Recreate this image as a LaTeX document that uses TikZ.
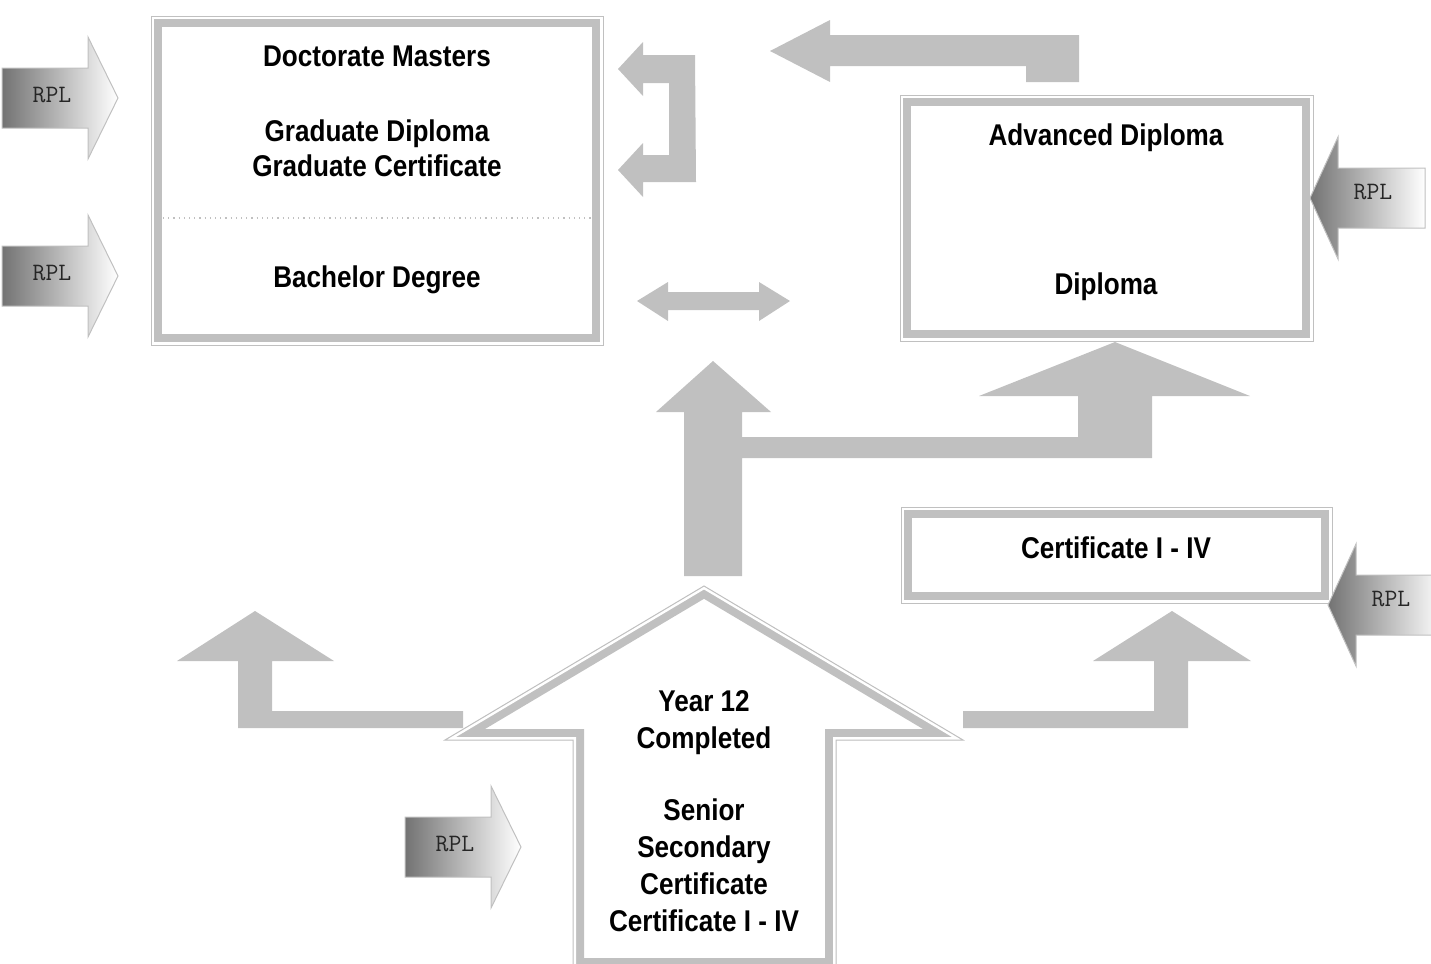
\documentclass[tikz,border=0pt]{standalone}
\usepackage{fontspec}
\newfontfamily\qualfont{Liberation Sans}[FakeStretch=0.87]
\usetikzlibrary{calc}

\definecolor{silver}{HTML}{C0C0C0}

\tikzset{
  arrowfill/.style={fill=silver, draw=none},
  rplarrow/.style={left color=black!55, right color=white, draw=silver, line width=0.5pt},
  rpltext/.style={font=\ttfamily\fontsize{12.5}{14}\selectfont, text=black!85, inner sep=0pt},
  quallabel/.style={font=\qualfont\bfseries\fontsize{15}{17.5}\selectfont, align=center, anchor=base, inner sep=0pt},
  yearlabel/.style={quallabel, font=\qualfont\bfseries\fontsize{15}{18.5}\selectfont},
}

% thin outer line, small gap, thick inner band
\newcommand{\dblframe}[1]{%
  \begin{scope}
    \clip #1;
    \draw[line width=11pt, silver] #1;
    \draw[line width=3pt, white] #1;
  \end{scope}
  \draw[line width=0.5pt, silver] #1;
}

% RPL arrow pointing right, #2 = centre of the tail
\newcommand{\rplright}[2]{%
  \draw[rplarrow] (#2) ++(0,-30) -- ++(86,0) -- ++(0,-31) -- ++(30,61)
    -- ++(-30,61) -- ++(0,-31) -- ++(-86,0) -- cycle;
  \node[rpltext] (#1) at ($(#2)+(50,-3)$) {RPL};
}

% RPL arrow pointing left, #2 = tip
\newcommand{\rplleft}[2]{%
  \draw[rplarrow] (#2) -- ++(28,-61) -- ++(0,31) -- ++(87,0) -- ++(0,60)
    -- ++(-87,0) -- ++(0,31) -- cycle;
  \node[rpltext] (#1) at ($(#2)+(63,-6)$) {RPL};
}

\begin{document}
\begin{tikzpicture}[x=0.5pt, y=-0.5pt]
  \useasboundingbox (0,0) rectangle (1431,964);

  % Higher education box (base anchor = last line)
  \dblframe{(151,16) rectangle (603,345)}
  \draw[silver, line width=0.6pt, dotted] (163,218) -- (592,218);
  \node[quallabel] (grad) at (377,176)
    {Doctorate Masters\\[20pt]Graduate Diploma\\Graduate Certificate};
  \node[quallabel] (bach) at (377,287) {Bachelor Degree};

  % Diploma box
  \dblframe{(900,95) rectangle (1313,341)}
  \node[quallabel] (advdip) at (1106,145) {Advanced Diploma};
  \node[quallabel] (dip) at (1106,294) {Diploma};

  % Certificate box
  \dblframe{(901,507) rectangle (1332,603)}
  \node[quallabel] (cert) at (1116,558) {Certificate I - IV};

  % Year 12 arrow
  \dblframe{(704,586) -- (963,740) -- (836,740) -- (836,969) -- (573,969) -- (573,740) -- (445,740) -- cycle}
  \node[yearlabel] (year) at (704,748) {Year 12\\Completed};
  \node[yearlabel] (senior) at (704,931)
    {Senior\\Secondary\\Certificate\\Certificate I - IV};

  % Grey pathway arrows
  \fill[arrowfill] (770,51) -- (830,20) -- (830,35) -- (1079,35) -- (1079,82)
    -- (1026,82) -- (1026,66) -- (830,66) -- (830,82) -- cycle;
  \fill[arrowfill] (618,69) -- (643,42) -- (643,55) -- (695,55) -- (696,182)
    -- (643,182) -- (643,197) -- (618,170) -- (643,143) -- (643,155)
    -- (669,155) -- (669,83) -- (643,83) -- (643,96) -- cycle;
  \fill[arrowfill] (637,301) -- (668,282) -- (668,292) -- (759,292) -- (759,282)
    -- (790,301) -- (759,321) -- (759,310) -- (668,310) -- (668,321) -- cycle;
  \fill[arrowfill] (713,361) -- (771,412) -- (742,412) -- (742,437) -- (1078,437)
    -- (1078,396) -- (979,396) -- (1115,342) -- (1250,396) -- (1152,396)
    -- (1152,458) -- (742,458) -- (742,576) -- (684,576) -- (684,412)
    -- (656,412) -- cycle;
  \fill[arrowfill] (255,611) -- (334,661) -- (272,661) -- (272,711) -- (463,711)
    -- (463,728) -- (238,728) -- (238,661) -- (177,661) -- cycle;
  \fill[arrowfill] (1172,611) -- (1251,661) -- (1188,661) -- (1188,728) -- (963,728)
    -- (963,711) -- (1154,711) -- (1154,661) -- (1093,661) -- cycle;

  % RPL entry points
  \rplright{rplA}{2,98}
  \rplright{rplB}{2,276}
  \rplright{rplC}{405,847}
  \rplleft{rplD}{1310,198}
  \rplleft{rplE}{1328,605}
\end{tikzpicture}
\end{document}
